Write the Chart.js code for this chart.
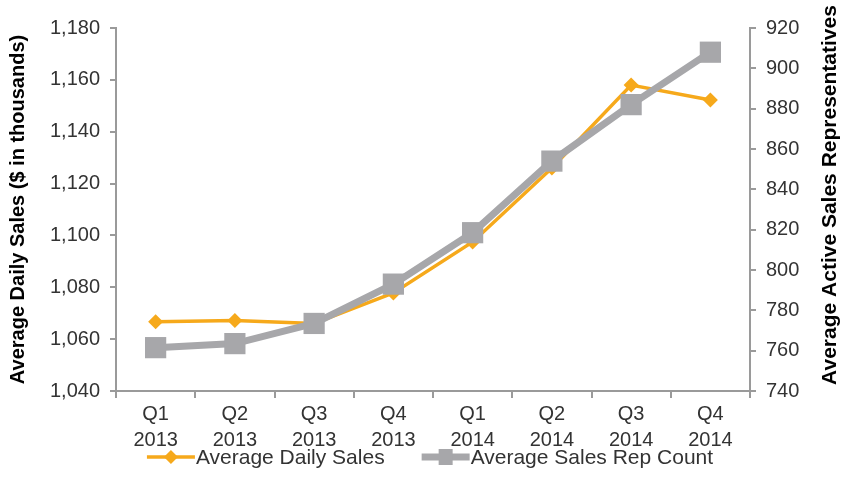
<!DOCTYPE html>
<html lang="en">
<head>
    <meta charset="UTF-8">
    <title>Average Daily Sales and Sales Rep Count</title>
    <style>
        html, body {
            margin: 0;
            padding: 0;
            background: #ffffff;
        }
        .wrap {
            width: 852px;
            height: 499px;
        }
    </style>
    <script src="https://cdn.jsdelivr.net/npm/chart.js"></script>
</head>
<body>
    <div class="wrap">
        <canvas id="salesChart" width="852" height="499"></canvas>
    </div>
    <script>
        // data
        const quarters = [
            ['Q1', '2013'], ['Q2', '2013'], ['Q3', '2013'], ['Q4', '2013'],
            ['Q1', '2014'], ['Q2', '2014'], ['Q3', '2014'], ['Q4', '2014']
        ];
        const dailySales = [1066.7, 1067.2, 1066.0, 1077.8, 1097.5, 1126.0, 1158.0, 1152.2];
        const repCount = [761.5, 763.5, 773.5, 793.0, 818.5, 854.0, 882.0, 908.0];
        const rightTitle = 'Average Active Sales Representatives';

        const orange = '#F6A91B';
        const grey = '#A7A7AA';
        const textColor = '#333333';
        const axisColor = '#9a9a9a';
        const fontFamily = '"Liberation Sans", Arial, sans-serif';

        // legend drawn by hand: line with marker, text right after it
        const bottomLegend = {
            id: 'bottomLegend',
            afterDraw(chart) {
                const g = chart.ctx;
                const items = chart.data.datasets;
                const iconW = 48, textGap = 1, itemGap = 37, y = 457;
                g.save();
                g.font = '21px ' + fontFamily;
                const widths = items.map(ds => g.measureText(ds.label).width);
                let total = 0;
                widths.forEach((w, i) => { total += iconW + textGap + w + (i ? itemGap : 0); });
                let x = 430 - total / 2;
                items.forEach((ds, i) => {
                    const c = ds.borderColor;
                    g.strokeStyle = c;
                    g.fillStyle = c;
                    g.lineWidth = ds.borderWidth;
                    g.beginPath();
                    g.moveTo(x, y);
                    g.lineTo(x + iconW, y);
                    g.stroke();
                    const cx = x + iconW / 2;
                    g.beginPath();
                    if (ds.pointStyle === 'rectRot') {
                        g.moveTo(cx, y - 7);
                        g.lineTo(cx + 7, y);
                        g.lineTo(cx, y + 7);
                        g.lineTo(cx - 7, y);
                        g.closePath();
                    } else {
                        g.rect(cx - 7, y - 8, 14, 16);
                    }
                    g.fill();
                    g.fillStyle = textColor;
                    g.textBaseline = 'middle';
                    g.textAlign = 'left';
                    g.fillText(ds.label, x + iconW + textGap, y + 1);
                    x += iconW + textGap + widths[i] + itemGap;
                });

                // right axis title reads bottom to top in the original
                g.fillStyle = '#000000';
                g.font = 'bold 21px ' + fontFamily;
                g.translate(830, 195);
                g.rotate(-Math.PI / 2);
                g.textAlign = 'center';
                g.textBaseline = 'middle';
                g.fillText(rightTitle, 0, 0);
                g.restore();
            }
        };

        const ctx = document.getElementById('salesChart').getContext('2d');
        new Chart(ctx, {
            type: 'line',
            data: {
                labels: quarters,
                datasets: [
                    {
                        label: 'Average Daily Sales',
                        data: dailySales,
                        yAxisID: 'y',
                        borderColor: orange,
                        backgroundColor: orange,
                        borderWidth: 3.5,
                        pointStyle: 'rectRot',
                        pointRadius: 7.5,
                        pointBorderWidth: 0,
                        pointBackgroundColor: orange,
                        order: 2
                    },
                    {
                        label: 'Average Sales Rep Count',
                        data: repCount,
                        yAxisID: 'y1',
                        borderColor: grey,
                        backgroundColor: grey,
                        borderWidth: 7,
                        pointStyle: 'rect',
                        pointRadius: 15,
                        pointBorderWidth: 0,
                        pointBackgroundColor: grey,
                        order: 1
                    }
                ]
            },
            plugins: [bottomLegend],
            options: {
                responsive: false,
                animation: false,
                layout: {
                    padding: { top: 28, left: 0, right: 0, bottom: 0 }
                },
                plugins: {
                    tooltip: { enabled: false },
                    legend: { display: false }
                },
                scales: {
                    x: {
                        offset: true,
                        grid: {
                            offset: true,
                            drawOnChartArea: false,
                            drawTicks: true,
                            tickLength: 7,
                            color: axisColor,
                            lineWidth: 2
                        },
                        border: { color: axisColor, width: 2 },
                        ticks: {
                            color: textColor,
                            font: { family: fontFamily, size: 20, lineHeight: 1.3 },
                            padding: 3,
                            maxRotation: 0
                        },
                        afterFit: function(scale) { scale.height = 108; }
                    },
                    y: {
                        position: 'left',
                        min: 1040,
                        max: 1180,
                        grid: {
                            drawOnChartArea: false,
                            tickLength: 6,
                            color: axisColor,
                            lineWidth: 2
                        },
                        border: { color: axisColor, width: 2 },
                        ticks: {
                            stepSize: 20,
                            color: textColor,
                            font: { family: fontFamily, size: 20 },
                            padding: 10,
                            callback: v => v.toLocaleString('en-US')
                        },
                        title: {
                            display: true,
                            text: 'Average Daily Sales ($ in thousands)',
                            color: '#000000',
                            font: { family: fontFamily, size: 20, weight: 'bold' },
                            padding: { top: 6, bottom: 4 }
                        },
                        afterFit: function(scale) { scale.width = 116; }
                    },
                    y1: {
                        position: 'right',
                        min: 740,
                        max: 920,
                        grid: {
                            drawOnChartArea: false,
                            tickLength: 6,
                            color: axisColor,
                            lineWidth: 2
                        },
                        border: { color: axisColor, width: 2 },
                        ticks: {
                            stepSize: 20,
                            color: textColor,
                            font: { family: fontFamily, size: 20 },
                            padding: 10
                        },
                        afterFit: function(scale) { scale.width = 102; }
                    }
                }
            }
        });
    </script>
</body>
</html>
